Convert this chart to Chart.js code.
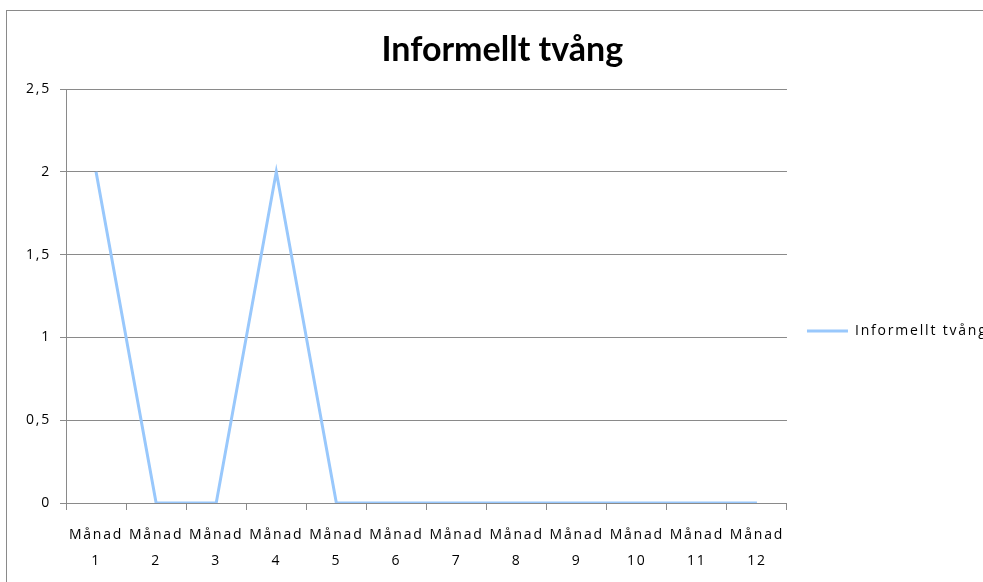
<!DOCTYPE html>
<html>
<head>
<meta charset="utf-8">
<script src="https://cdn.jsdelivr.net/npm/chart.js@4"></script>
<style>
  html, body { margin: 0; padding: 0; background: #fff; overflow: hidden; width: 983px; height: 582px; }
  #frame { position: absolute; left: 6px; top: 10px; width: 1100px; height: 700px;
           border-left: 1px solid #8a8a8a; border-top: 1px solid #8a8a8a; }
  #wrap { position: absolute; left: 0; top: 0; width: 998px; height: 640px; }
</style>
</head>
<body>
<div id="frame"><div id="wrap"><canvas id="c"></canvas></div></div>
<script>
const chartTitle = 'Informellt tvång';
const seriesName = 'Informellt tvång';
const monthWord = 'Månad';
const monthNumbers = ['1', '2', '3', '4', '5', '6', '7', '8', '9', '10', '11', '12'];
const values = [2, 0, 0, 2, 0, 0, 0, 0, 0, 0, 0, 0];
const yMin = 0, yMax = 2.5, yStep = 0.5;

const labels = monthNumbers.map(n => [monthWord, n]);

const gridGray = '#8a8a8a';
const lineBlue = '#99c8fc';
const bodyFamily = 'Open Sans';
const labelSpacing = '1.8px';

// Wide-tracked body text for ticks and legend; the title keeps normal tracking.
const trackedText = {
  id: 'trackedText',
  afterInit(chart) {
    const t = chart.titleBlock;
    const drawTitle = t.draw.bind(t);
    t.draw = (area) => {
      const ctx = chart.ctx;
      const prev = ctx.letterSpacing;
      ctx.letterSpacing = '0px';
      drawTitle(area);
      ctx.letterSpacing = prev;
    };
  },
  beforeUpdate(chart) { chart.ctx.letterSpacing = labelSpacing; },
  beforeDraw(chart) { chart.ctx.letterSpacing = labelSpacing; }
};

const chart = new Chart(document.getElementById('c'), {
  type: 'line',
  data: {
    labels: labels,
    datasets: [{
      label: seriesName,
      data: values,
      borderColor: lineBlue,
      backgroundColor: lineBlue,
      borderWidth: 3,
      pointRadius: 0,
      tension: 0,
      fill: false
    }]
  },
  plugins: [trackedText],
  options: {
    responsive: true,
    maintainAspectRatio: false,
    animation: false,
    devicePixelRatio: 1,
    layout: { padding: { left: 0, right: 7.4, top: 0, bottom: 0 } },
    plugins: {
      title: {
        display: true,
        text: chartTitle,
        color: '#000',
        font: { family: 'Lato', weight: 'bold', size: 34, lineHeight: 1.2 },
        padding: { top: 18.2, bottom: 19 }
      },
      legend: {
        display: true,
        position: 'right',
        align: 'center',
        labels: {
          usePointStyle: true,
          pointStyle: 'line',
          pointStyleWidth: 41,
          padding: 20,
          color: '#000',
          font: { family: bodyFamily, size: 14 }
        }
      },
      tooltip: { enabled: false }
    },
    scales: {
      x: {
        offset: true,
        grid: {
          offset: true,
          drawOnChartArea: false,
          drawTicks: true,
          tickLength: 7,
          color: gridGray
        },
        border: { display: true, color: gridGray },
        ticks: {
          color: '#000',
          font: { family: bodyFamily, size: 14, lineHeight: 1.85 },
          padding: 12,
          maxRotation: 0,
          minRotation: 0,
          autoSkip: false
        },
        afterFit: s => { s.height = 148; }
      },
      y: {
        min: yMin,
        max: yMax,
        grid: { color: gridGray, tickLength: 6, drawTicks: true },
        border: { display: true, color: gridGray },
        ticks: {
          stepSize: yStep,
          color: '#000',
          font: { family: bodyFamily, size: 14 },
          padding: 9,
          callback: v => String(v).replace('.', ',')
        },
        afterFit: s => { s.width = 59; }
      }
    }
  }
});
</script>
</body>
</html>
